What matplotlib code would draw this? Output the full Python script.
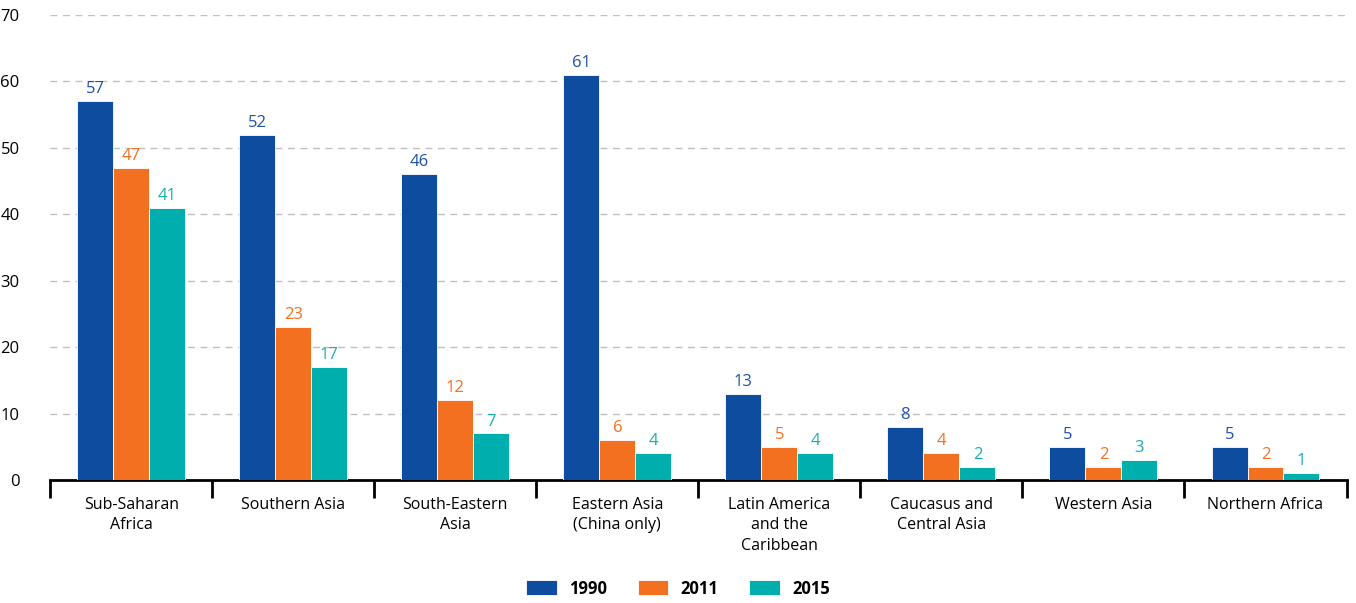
import matplotlib.pyplot as plt
import numpy as np

regions = ['Sub-Saharan\nAfrica', 'Southern Asia', 'South-Eastern\nAsia',
           'Eastern Asia\n(China only)', 'Latin America\nand the\nCaribbean',
           'Caucasus and\nCentral Asia', 'Western Asia', 'Northern Africa']
years = ['1990', '2011', '2015']
v1990 = [57, 52, 46, 61, 13, 8, 5, 5]
v2011 = [47, 23, 12, 6, 5, 4, 2, 2]
v2015 = [41, 17, 7, 4, 4, 2, 3, 1]

colors = ['#0D4C9F', '#F37021', '#00AEAE']
label_colors = ['#1F52A6', '#F37021', '#1AAFAF']

plt.rcParams['font.family'] = ['Open Sans', 'DejaVu Sans']

fig = plt.figure(figsize=(13.56, 6.03), dpi=100)
ax = fig.add_axes([0.037, 0.204, 0.956, 0.771])

x = np.arange(len(regions))
w = 0.222
series = [v1990, v2011, v2015]
for i, vals in enumerate(series):
    pos = x + (i - 1) * w
    ax.bar(pos, vals, width=w, color=colors[i], label=years[i],
           edgecolor='white', linewidth=0.6, zorder=3)
    for p, v in zip(pos, vals):
        ax.text(p, v + 0.6, str(v), ha='center', va='bottom',
                fontsize=12, color=label_colors[i], zorder=4)

ax.set_xlim(-0.5, 7.5)
ax.set_ylim(0, 70)
ax.set_yticks(range(0, 71, 10))
ax.yaxis.grid(True, linestyle=(0, (5, 4)), color='#C0C0C0', linewidth=1)
ax.set_axisbelow(True)
for s in ['top', 'right', 'left']:
    ax.spines[s].set_visible(False)
ax.spines['bottom'].set_linewidth(2)
ax.spines['bottom'].set_color('black')
ax.tick_params(axis='y', length=0, labelsize=12, pad=22)

ax.set_xticks(x)
ax.set_xticklabels(regions, fontsize=11.5, linespacing=1.4)
ax.tick_params(axis='x', which='major', length=0, pad=12)
ax.set_xticks(np.arange(-0.5, 8, 1), minor=True)
ax.tick_params(axis='x', which='minor', length=13, width=2, color='black')

fig.legend(loc='lower center', bbox_to_anchor=(0.5, -0.016), ncol=3,
           frameon=False, handlelength=1.85, handleheight=1.0,
           columnspacing=1.8, handletextpad=0.75,
           prop={'weight': 'bold', 'size': 12})

fig.savefig('out.png', dpi=100)
